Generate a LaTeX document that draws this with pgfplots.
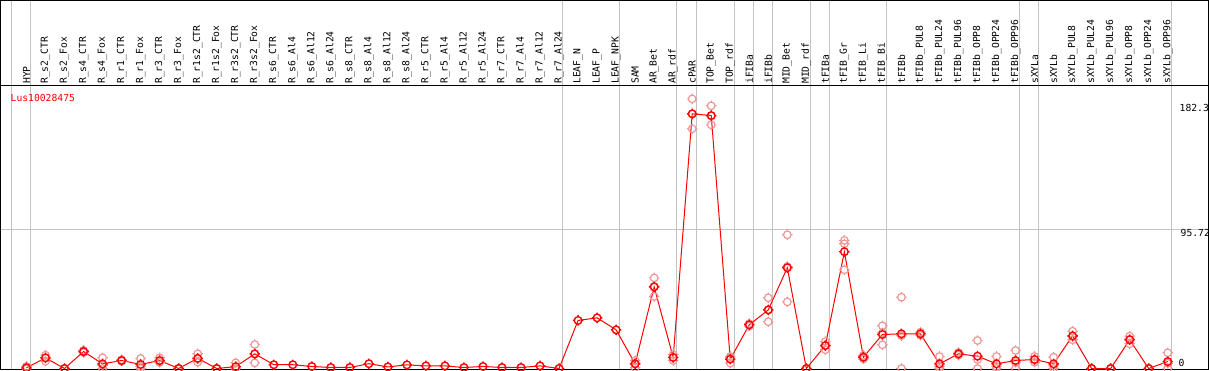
\documentclass[border=0pt]{standalone}
\usepackage{pgfplots}
\pgfplotsset{compat=1.18}
\usepackage{pgfplotstable}
\usepackage{fontspec}
\newfontfamily\monofnt{DejaVu Sans Mono}
\definecolor{mainred}{RGB}{255,0,0}
\definecolor{repred}{RGB}{238,150,150}
\definecolor{sepgray}{RGB}{195,195,195}

\pgfdeclareplotmark{ctick}{%
  \pgfpathcircle{\pgfpointorigin}{3.8pt}%
  \pgfpathmoveto{\pgfqpoint{0pt}{3.8pt}}\pgfpathlineto{\pgfqpoint{0pt}{5.2pt}}%
  \pgfpathmoveto{\pgfqpoint{0pt}{-3.8pt}}\pgfpathlineto{\pgfqpoint{0pt}{-5.2pt}}%
  \pgfpathmoveto{\pgfqpoint{3.8pt}{0pt}}\pgfpathlineto{\pgfqpoint{5.2pt}{0pt}}%
  \pgfpathmoveto{\pgfqpoint{-3.8pt}{0pt}}\pgfpathlineto{\pgfqpoint{-5.2pt}{0pt}}%
  \pgfusepathqstroke}

\pgfplotstableread{
x y
0 0.5
1 7.3
2 0
3 11.7
4 3.2
5 5.5
6 2.8
7 5.5
8 0
9 7.0
10 0
11 1.3
12 10.1
13 2.6
14 2.6
15 1.4
16 0.7
17 0.7
18 3.3
19 1.1
20 2.5
21 1.8
22 1.8
23 0.7
24 1.4
25 0.7
26 0.7
27 1.8
28 0
29 33.1
30 34.9
31 26.6
32 3.2
33 56.2
34 7.6
35 175.4
36 174.2
37 6.4
38 30.1
39 40.4
40 69.4
41 0
42 15.8
43 80.4
44 7.8
45 23.4
46 23.9
47 23.9
48 3.2
49 10.1
50 8.5
51 3.2
52 5.5
53 6.2
54 3.2
55 22.5
56 0
57 0
58 19.8
59 0
60 4.8
}\mainData

\pgfplotstableread{
x y
0 1.5
0 0
0 0
1 9.2
1 7.4
1 5.0
2 0
2 0
2 0
3 12.5
3 11.7
3 11.0
4 7.4
4 2.2
4 0
5 6.0
5 5.5
5 5.0
6 6.9
6 1.5
6 0
7 7.4
7 5.0
7 4.1
8 0
8 0
8 0
9 10.1
9 6.7
9 4.4
10 0
10 0
10 0
11 3.9
11 0
11 0
12 16.5
12 10.0
12 3.9
32 5.5
32 3.6
32 0.5
33 62.4
33 56.6
33 49.6
34 9.6
34 7.7
34 5.5
35 185.7
35 175.4
35 165.1
36 180.9
36 173.9
36 167.8
37 8.3
37 7.2
37 3.7
38 31.0
38 30.1
38 29.2
39 48.7
39 40.3
39 32.2
40 92.1
40 70.2
40 45.9
41 0
41 0
41 0
42 18.6
42 15.9
42 12.9
43 88.2
43 85.9
43 68.0
44 9.0
44 7.8
44 6.6
45 29.4
45 24.5
45 16.3
46 49.1
46 22.6
46 0
47 25.0
47 23.9
47 22.8
48 8.3
48 1.3
48 0
49 11.0
49 10.1
49 9.2
50 19.3
50 6.2
50 0
51 8.3
51 1.3
51 0
52 12.4
52 4.1
52 0
53 8.3
53 6.0
53 4.3
54 7.8
54 1.8
54 0
55 25.7
55 22.0
55 19.8
56 0
56 0
56 0
57 0
57 0
57 0
58 22.3
58 20.1
58 17.0
59 0
59 0
59 0
60 10.8
60 3.6
60 0
}\repData

\begin{document}
\begin{tikzpicture}
\begin{axis}[
  at={(0pt,0pt)}, anchor=south west,
  scale only axis, width=1208pt, height=284pt,
  xmin=-1.367, xmax=62.145, ymin=-0.69, ymax=194.9,
  axis line style={line width=1pt, black},
  xtick={0,...,60},
  xticklabels={HYP,R\_s2\_CTR,R\_s2\_Fox,R\_s4\_CTR,R\_s4\_Fox,R\_r1\_CTR,R\_r1\_Fox,R\_r3\_CTR,R\_r3\_Fox,R\_r1s2\_CTR,R\_r1s2\_Fox,R\_r3s2\_CTR,R\_r3s2\_Fox,R\_s6\_CTR,R\_s6\_Al4,R\_s6\_Al12,R\_s6\_Al24,R\_s8\_CTR,R\_s8\_Al4,R\_s8\_Al12,R\_s8\_Al24,R\_r5\_CTR,R\_r5\_Al4,R\_r5\_Al12,R\_r5\_Al24,R\_r7\_CTR,R\_r7\_Al4,R\_r7\_Al12,R\_r7\_Al24,LEAF\_N,LEAF\_P,LEAF\_NPK,SAM,AR\_Bet,AR\_rdf,cPAR,TOP\_Bet,TOP\_rdf,iFIBa,iFIBb,MID\_Bet,MID\_rdf,tFIBa,tFIB\_Gr,tFIB\_Li,tFIB\_Bi,tFIBb,tFIBb\_PUL8,tFIBb\_PUL24,tFIBb\_PUL96,tFIBb\_OPP8,tFIBb\_OPP24,tFIBb\_OPP96,sXYLa,sXYLb,sXYLb\_PUL8,sXYLb\_PUL24,sXYLb\_PUL96,sXYLb\_OPP8,sXYLb\_OPP24,sXYLb\_OPP96},
  xticklabel pos=upper,
  xticklabel style={rotate=90, anchor=west, inner sep=1.5pt, font={\monofnt\fontsize{9.7pt}{10pt}\selectfont}},
  major tick length=0pt,
  ytick=\empty,
  clip=false,
  set layers,
]
\begin{pgfonlayer}{axis background}
\pgfplotsinvokeforeach{-0.8,0.2,28.2,31.2,34.2,35.2,37.2,38.2,39.2,41.2,42.2,45.2,52.2,53.2,60.2}{
  \draw[sepgray, line width=1pt] (axis cs:#1,-0.69) -- (axis cs:#1,253.4);
}
\draw[sepgray, line width=1pt] (axis cs:-1.367,95.72) -- (axis cs:62.145,95.72);
\end{pgfonlayer}
\addplot[only marks, mark=ctick, mark options={draw=repred, line width=1.2pt}] table[x=x,y=y] {\repData};
\addplot[mainred, line width=1pt, mark=ctick, mark options={draw=mainred, line width=1.4pt}] table[x=x,y=y] {\mainData};
\end{axis}
\draw[black, line width=1pt] (0pt,284pt) -- (0pt,369pt) -- (1208pt,369pt) -- (1208pt,284pt);
\node[anchor=west, text=red, inner sep=0pt, font={\monofnt\fontsize{9.7pt}{10pt}\selectfont}] at (10pt,272pt) {Lus10028475};
\node[anchor=west, inner sep=0pt, font={\monofnt\fontsize{9.7pt}{10pt}\selectfont}] at (1179pt,262pt) {182.3};
\node[anchor=west, inner sep=0pt, font={\monofnt\fontsize{9.7pt}{10pt}\selectfont}] at (1180pt,137pt) {95.72};
\node[anchor=west, inner sep=0pt, font={\monofnt\fontsize{9.7pt}{10pt}\selectfont}] at (1178pt,7pt) {0};
\pgfresetboundingbox
\useasboundingbox (-0.5pt,-0.5pt) rectangle (1208.5pt,369.5pt);
\end{tikzpicture}
\end{document}
